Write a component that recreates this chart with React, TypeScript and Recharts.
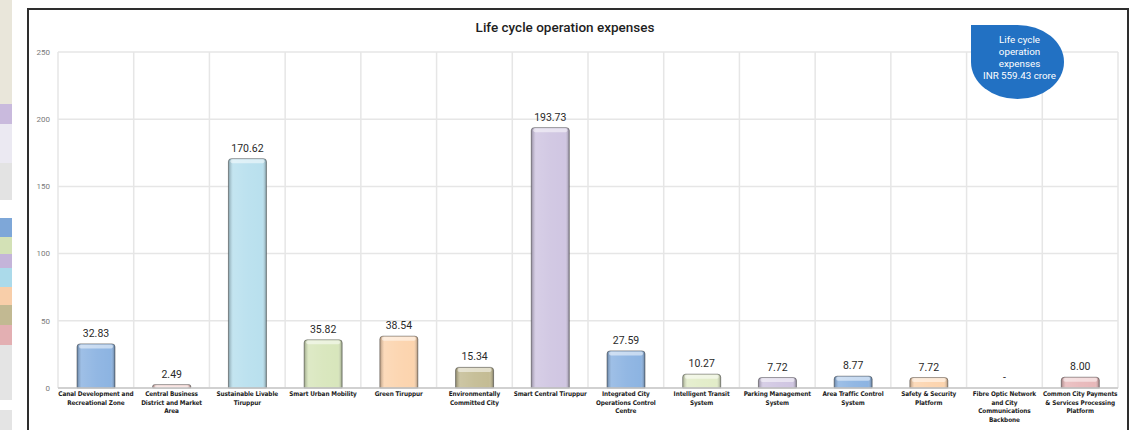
import React from "react";
import { BarChart, Bar, XAxis, YAxis, CartesianGrid, LabelList } from "recharts";

const categories = [
  "Canal Development and\nRecreational Zone",
  "Central Business\nDistrict and Market\nArea",
  "Sustainable Livable\nTiruppur",
  "Smart Urban Mobility",
  "Green Tiruppur",
  "Environmentally\nCommitted City",
  "Smart Central Tiruppur",
  "Integrated City\nOperations Control\nCentre",
  "Intelligent Transit\nSystem",
  "Parking Management\nSystem",
  "Area Traffic Control\nSystem",
  "Safety & Security\nPlatform",
  "Fibre Optic Network\nand City\nCommunications\nBackbone",
  "Common City Payments\n& Services Processing\nPlatform",
];
const values = [32.83, 2.49, 170.62, 35.82, 38.54, 15.34, 193.73, 27.59, 10.27, 7.72, 8.77, 7.72, 0, 8.0];
const valueLabels = ["32.83", "2.49", "170.62", "35.82", "38.54", "15.34", "193.73", "27.59", "10.27", "7.72", "8.77", "7.72", "-", "8.00"];
const barColors = [
  "#8db4e2", "#f2cac6", "#b9e0ee", "#d8e6bc", "#fcd4ae", "#c4bc94", "#d0c6e2",
  "#8db4e2", "#e2ecc8", "#d0c6e2", "#8db4e2", "#fcd4ae", "#ffffff", "#e8b8ba",
];
const yTicks = [0, 50, 100, 150, 200, 250];

// decorative strip from the scanned page on the far left
const strip: [number, string][] = [
  [104, "#e9e6da"], [20, "#c9badd"], [39, "#ebe9f2"], [37, "#e3e3e3"], [18, "#ffffff"],
  [19, "#7ea7d8"], [17, "#d3e1b6"], [14, "#c4b4d9"], [19, "#abdaea"], [18, "#f8cea9"],
  [20, "#c2b992"], [20, "#e3afb2"], [55, "#e4e4e4"], [10, "#ffffff"], [20, "#e4e4e4"],
];

const data = categories.map((name, i) => ({ name, value: values[i], label: valueLabels[i] }));

const W = 1132;
const H = 430;
const M = { top: 52, right: 14, bottom: 0, left: 26 };

function GlassBar(props: any) {
  const { x, y, width, height, index } = props;
  if (!height || height <= 0) return <g />;
  const r = Math.min(3, height / 2);
  const d = `M${x},${y + height} L${x},${y + r} Q${x},${y} ${x + r},${y} L${x + width - r},${y} Q${x + width},${y} ${x + width},${y + r} L${x + width},${y + height} Z`;
  return (
    <g>
      <path d={d} fill={barColors[index]} />
      <path d={d} fill="url(#barShade)" stroke="rgba(60,60,60,0.5)" strokeWidth={1} />
      <rect x={x + 2} y={y + 0.5} width={width - 4} height={Math.min(4, height - 0.5)} rx={2} fill="#ffffff" opacity={0.5} />
    </g>
  );
}

function CatTick(props: any) {
  const { x, y, payload } = props;
  const lines = String(payload.value).split("\n");
  return (
    <text x={x} y={y} textAnchor="middle" fontSize={6.4} fontWeight="bold" fill="#1a1a1a"
      letterSpacing={-0.1} fontFamily="'Liberation Sans Narrow', 'DejaVu Sans Condensed', 'Roboto', sans-serif">
      {lines.map((l, i) => (
        <tspan key={i} x={x} dy={i === 0 ? 0 : 8.5}>{l}</tspan>
      ))}
    </text>
  );
}

export default function App() {
  const n = categories.length;
  return (
    <div style={{ position: "fixed", left: 0, top: 0, width: W, height: H, background: "#fff", overflow: "hidden" }}>
      <div style={{ position: "absolute", left: 0, top: 0, width: 12 }}>
        {strip.map(([h, c], i) => (
          <div key={i} style={{ height: h, background: c }} />
        ))}
      </div>
      <div style={{ position: "absolute", left: 27, top: 8, width: 1098, height: 440, border: "2px solid #2e2e2e", borderBottom: "none" }} />
      <div style={{ position: "absolute", left: 565, top: 19, transform: "translateX(-50%)", fontFamily: "Roboto, sans-serif", fontWeight: 500, fontSize: 13.5, color: "#1e1e1e", whiteSpace: "nowrap" }}>
        Life cycle operation expenses
      </div>
      <div style={{ position: "absolute", left: 0, top: 0 }}>
        <BarChart width={W} height={H} data={data} margin={M} barSize={38}>
          <defs>
            <linearGradient id="barShade" x1="0" y1="0" x2="1" y2="0">
              <stop offset="0%" stopColor="#000" stopOpacity={0.3} />
              <stop offset="12%" stopColor="#fff" stopOpacity={0.15} />
              <stop offset="50%" stopColor="#fff" stopOpacity={0.05} />
              <stop offset="88%" stopColor="#fff" stopOpacity={0.0} />
              <stop offset="100%" stopColor="#000" stopOpacity={0.35} />
            </linearGradient>
          </defs>
          <CartesianGrid
            stroke="#e6e6e6"
            strokeWidth={1.5}
            verticalCoordinatesGenerator={(p: any) => {
              const left = p?.offset?.left ?? 58;
              const width = p?.offset?.width ?? 1060;
              return Array.from({ length: n + 1 }, (_, i) => left + (i * width) / n);
            }}
          />
          <XAxis dataKey="name" interval={0} tick={<CatTick />} tickLine={false} axisLine={{ stroke: "#c8c8c8", strokeWidth: 1.5 }} height={42} />
          <YAxis domain={[0, 250]} ticks={yTicks} width={32} tickLine={false} axisLine={false}
            tick={{ fontSize: 8, fill: "#7a7a7a", fontFamily: "Roboto, sans-serif" }} />
          <Bar dataKey="value" shape={<GlassBar />} isAnimationActive={false}>
            <LabelList dataKey="label" position="top" offset={7} fontSize={10.5} fill="#2a2a2a" fontFamily="Roboto, sans-serif" />
          </Bar>
        </BarChart>
      </div>
      <div style={{ position: "absolute", left: 971, top: 25, width: 93, height: 74, background: "#2271c3", borderRadius: "0 50% 50% 50% / 0 50% 50% 50%", color: "#fff", fontFamily: "Roboto, sans-serif", fontSize: 9.8, lineHeight: "12px", textAlign: "center", boxSizing: "border-box", paddingTop: 9, paddingLeft: 4, whiteSpace: "nowrap" }}>
        Life cycle<br />operation<br />expenses<br />INR 559.43 crore
      </div>
    </div>
  );
}
